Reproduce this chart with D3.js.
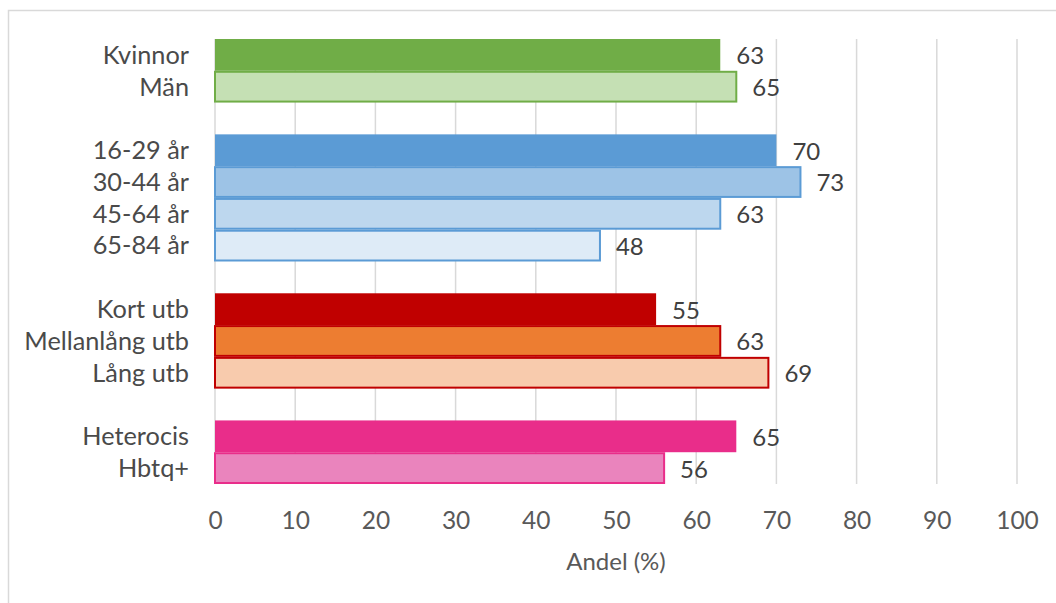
<!DOCTYPE html>
<html>
<head>
<meta charset="utf-8">
<script src="https://cdn.jsdelivr.net/npm/d3@7"></script>
<style>
  html, body { margin: 0; padding: 0; background: #fff; }
  svg { display: block; font-family: "Lato", "Open Sans", sans-serif; }
</style>
</head>
<body>
<svg id="chart" width="1056" height="603"></svg>
<script>
// Response groups, each drawn as a block of bars with an empty row between blocks
const categories = ["Kvinnor", "Män", "16-29 år", "30-44 år", "45-64 år", "65-84 år",
                    "Kort utb", "Mellanlång utb", "Lång utb", "Heterocis", "Hbtq+"];
const groups = [0, 0, 1, 1, 1, 1, 2, 2, 2, 3, 3];
const values = [63, 65, 70, 73, 63, 48, 55, 63, 69, 65, 56];
const fills = ["#70AD47", "#C5E0B4", "#5B9BD5", "#9DC3E6", "#BDD7EE", "#DEEBF7",
               "#C00000", "#ED7D31", "#F8CBAD", "#E92D8A", "#EA84BD"];
const strokes = [null, "#70AD47", null, "#5B9BD5", "#5B9BD5", "#5B9BD5",
                 null, "#C00000", "#C00000", null, "#E92D8A"];
const xTicks = [0, 10, 20, 30, 40, 50, 60, 70, 80, 90, 100];
const xTitle = "Andel (%)";

const svg = d3.select("#chart");
const plot = { left: 215, right: 1017, top: 39, bottom: 484 };

// Row keys: categories plus spacer rows between groups
const rows = [];
categories.forEach((c, i) => {
  if (i > 0 && groups[i] !== groups[i - 1]) rows.push("__gap" + i);
  rows.push(c);
});

const x = d3.scaleLinear().domain([0, 100]).range([plot.left, plot.right]);
const y = d3.scaleBand().domain(rows).range([plot.top, plot.bottom]).padding(0);

// Chart frame
svg.append("rect")
  .attr("x", 8.5).attr("y", 10.5).attr("width", 1100).attr("height", 700)
  .attr("fill", "#fff").attr("stroke", "#d9d9d9").attr("stroke-width", 1.5);

// Vertical gridlines
svg.append("g").selectAll("line").data(xTicks).join("line")
  .attr("x1", d => x(d)).attr("x2", d => x(d))
  .attr("y1", plot.top).attr("y2", plot.bottom)
  .attr("stroke", "#d9d9d9").attr("stroke-width", 1.5);

// Bars
const data = categories.map((c, i) => ({ c, v: values[i], fill: fills[i], stroke: strokes[i] }));
svg.append("g").selectAll("rect").data(data).join("rect")
  .attr("x", x(0))
  .attr("y", d => y(d.c) + (d.stroke ? 1 : 0))
  .attr("width", d => x(d.v) - x(0))
  .attr("height", d => y.bandwidth() - (d.stroke ? 2 : 0))
  .attr("fill", d => d.fill)
  .attr("stroke", d => d.stroke || "none")
  .attr("stroke-width", 2);

// Value labels
svg.append("g").selectAll("text").data(data).join("text")
  .attr("x", d => x(d.v) + 16)
  .attr("y", d => y(d.c) + y.bandwidth() / 2 + 1)
  .attr("dy", "0.35em")
  .attr("font-size", 24)
  .attr("fill", "#404040")
  .text(d => d.v);

// Category labels
svg.append("g").selectAll("text").data(categories).join("text")
  .attr("x", 189)
  .attr("y", d => y(d) + y.bandwidth() / 2)
  .attr("dy", "0.35em")
  .attr("text-anchor", "end")
  .attr("font-size", 25.3)
  .attr("fill", "#4a4a4a")
  .text(d => d);

// X axis tick labels
const xAxis = d3.axisBottom(x).tickValues(xTicks).tickSize(0).tickPadding(0).tickFormat(d3.format("d"));
const gx = svg.append("g").attr("transform", `translate(0,${plot.bottom})`).call(xAxis);
gx.select(".domain").remove();
gx.selectAll("text")
  .attr("y", 36).attr("dy", "0.35em")
  .attr("font-family", "Lato, 'Open Sans', sans-serif")
  .attr("font-size", 24.5).attr("fill", "#595959");

// Axis title
svg.append("text")
  .attr("x", (plot.left + plot.right) / 2)
  .attr("y", 562).attr("dy", "0.35em")
  .attr("text-anchor", "middle")
  .attr("font-size", 24).attr("fill", "#595959")
  .text(xTitle);
</script>
</body>
</html>
